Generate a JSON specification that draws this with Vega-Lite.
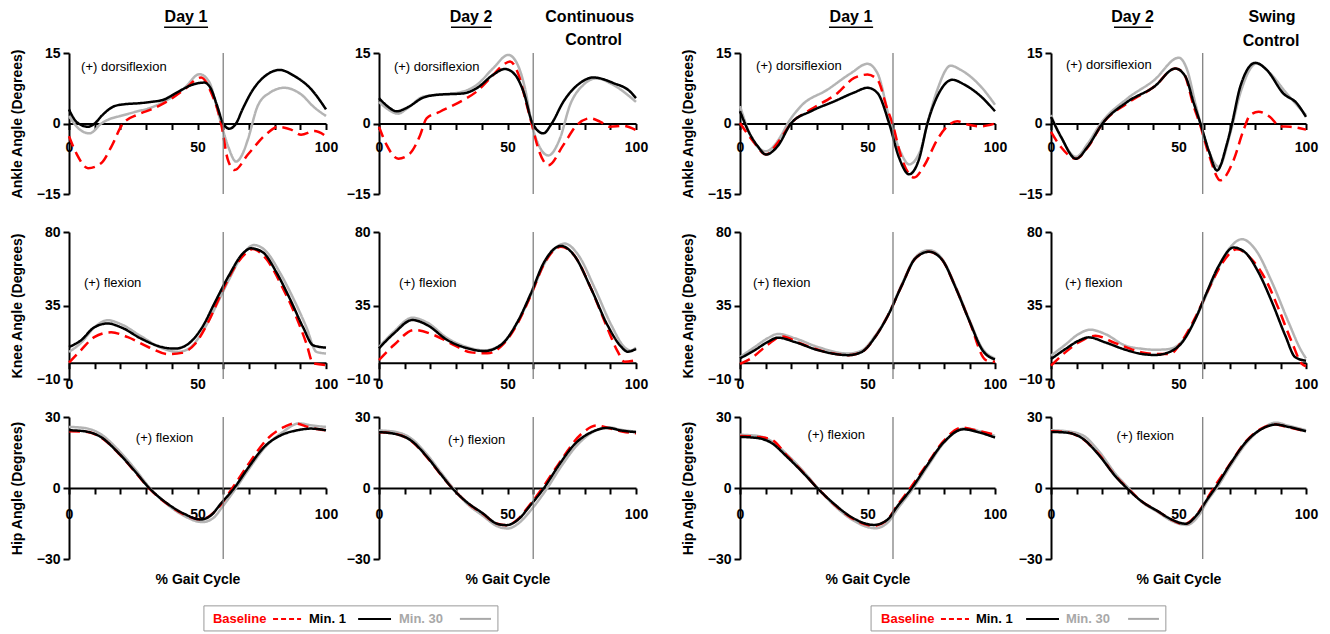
{
"$schema":"https://vega.github.io/schema/vega-lite/v6.json",
"padding":{"left":10,"top":8,"right":5,"bottom":2},
"config":{"font":"Liberation Sans","view":{"stroke":null},
 "axis":{"grid":false,"domainColor":"#000","domainWidth":2,"tickColor":"#000","tickWidth":2,"labelColor":"#000","labelFontSize":14,"labelFontWeight":"bold","labelFont":"Liberation Sans","titleColor":"#000","titleFontSize":14,"titleFontWeight":"bold","titleFont":"Liberation Sans"},
 "text":{"font":"Liberation Sans","color":"#000"}},
"datasets":{"d":[
{"p":"A1","s":"Min. 30","x":0,"y":1.6},{"p":"A1","s":"Min. 30","x":4,"y":-1.2},{"p":"A1","s":"Min. 30","x":8,"y":-2.1},{"p":"A1","s":"Min. 30","x":12.6,"y":0},{"p":"A1","s":"Min. 30","x":16,"y":1.0},{"p":"A1","s":"Min. 30","x":20,"y":1.6},{"p":"A1","s":"Min. 30","x":26,"y":2.5},{"p":"A1","s":"Min. 30","x":32,"y":3.4},{"p":"A1","s":"Min. 30","x":38.5,"y":5.1},{"p":"A1","s":"Min. 30","x":45,"y":7.6},{"p":"A1","s":"Min. 30","x":50.8,"y":10.5},{"p":"A1","s":"Min. 30","x":54.7,"y":8.7},{"p":"A1","s":"Min. 30","x":57,"y":4.5},{"p":"A1","s":"Min. 30","x":59.2,"y":0},{"p":"A1","s":"Min. 30","x":62,"y":-5},{"p":"A1","s":"Min. 30","x":65,"y":-8.1},{"p":"A1","s":"Min. 30","x":67.5,"y":-6.5},{"p":"A1","s":"Min. 30","x":69.6,"y":-3.4},{"p":"A1","s":"Min. 30","x":73.4,"y":3.7},{"p":"A1","s":"Min. 30","x":78,"y":6.5},{"p":"A1","s":"Min. 30","x":83.8,"y":7.6},{"p":"A1","s":"Min. 30","x":90.3,"y":6.2},{"p":"A1","s":"Min. 30","x":95.5,"y":3.4},{"p":"A1","s":"Min. 30","x":100,"y":1.6},
{"p":"A1","s":"Baseline","x":0,"y":-2.7},{"p":"A1","s":"Baseline","x":3,"y":-6.5},{"p":"A1","s":"Baseline","x":7.4,"y":-9.5},{"p":"A1","s":"Baseline","x":12.6,"y":-8.4},{"p":"A1","s":"Baseline","x":16.5,"y":-4.9},{"p":"A1","s":"Baseline","x":21,"y":0},{"p":"A1","s":"Baseline","x":26.8,"y":1.9},{"p":"A1","s":"Baseline","x":32,"y":3.0},{"p":"A1","s":"Baseline","x":38.5,"y":4.8},{"p":"A1","s":"Baseline","x":45,"y":7.3},{"p":"A1","s":"Baseline","x":51.4,"y":9.8},{"p":"A1","s":"Baseline","x":55.3,"y":6.6},{"p":"A1","s":"Baseline","x":59.2,"y":0},{"p":"A1","s":"Baseline","x":61.8,"y":-7.7},{"p":"A1","s":"Baseline","x":64.4,"y":-9.9},{"p":"A1","s":"Baseline","x":69.6,"y":-6.6},{"p":"A1","s":"Baseline","x":77.3,"y":-2.0},{"p":"A1","s":"Baseline","x":81.2,"y":-0.7},{"p":"A1","s":"Baseline","x":86.4,"y":-1.3},{"p":"A1","s":"Baseline","x":90.3,"y":-2.4},{"p":"A1","s":"Baseline","x":95.5,"y":-1.6},{"p":"A1","s":"Baseline","x":100,"y":-2.7},
{"p":"A1","s":"Min. 1","x":0,"y":3.0},{"p":"A1","s":"Min. 1","x":3,"y":0.3},{"p":"A1","s":"Min. 1","x":7.4,"y":-0.7},{"p":"A1","s":"Min. 1","x":10,"y":0},{"p":"A1","s":"Min. 1","x":13,"y":1.8},{"p":"A1","s":"Min. 1","x":17.7,"y":3.7},{"p":"A1","s":"Min. 1","x":21.6,"y":4.1},{"p":"A1","s":"Min. 1","x":27,"y":4.3},{"p":"A1","s":"Min. 1","x":32,"y":4.6},{"p":"A1","s":"Min. 1","x":37,"y":5.1},{"p":"A1","s":"Min. 1","x":42,"y":6.6},{"p":"A1","s":"Min. 1","x":48.8,"y":8.4},{"p":"A1","s":"Min. 1","x":52.7,"y":8.7},{"p":"A1","s":"Min. 1","x":55.3,"y":7.3},{"p":"A1","s":"Min. 1","x":57.5,"y":4},{"p":"A1","s":"Min. 1","x":60,"y":0},{"p":"A1","s":"Min. 1","x":62.4,"y":-1.1},{"p":"A1","s":"Min. 1","x":65,"y":0},{"p":"A1","s":"Min. 1","x":67.5,"y":3},{"p":"A1","s":"Min. 1","x":70.9,"y":6.6},{"p":"A1","s":"Min. 1","x":77.3,"y":10.5},{"p":"A1","s":"Min. 1","x":81.9,"y":11.4},{"p":"A1","s":"Min. 1","x":87.7,"y":10.1},{"p":"A1","s":"Min. 1","x":94.2,"y":7.3},{"p":"A1","s":"Min. 1","x":100,"y":3.0},
{"p":"A2","s":"Min. 30","x":0,"y":4.6},{"p":"A2","s":"Min. 30","x":3,"y":3.2},{"p":"A2","s":"Min. 30","x":7.5,"y":2.1},{"p":"A2","s":"Min. 30","x":11,"y":3.2},{"p":"A2","s":"Min. 30","x":17.2,"y":5.7},{"p":"A2","s":"Min. 30","x":25,"y":6.2},{"p":"A2","s":"Min. 30","x":32.8,"y":6.8},{"p":"A2","s":"Min. 30","x":38,"y":8.2},{"p":"A2","s":"Min. 30","x":44.5,"y":11.8},{"p":"A2","s":"Min. 30","x":50.3,"y":14.6},{"p":"A2","s":"Min. 30","x":53.6,"y":12.9},{"p":"A2","s":"Min. 30","x":56.8,"y":7.5},{"p":"A2","s":"Min. 30","x":59.4,"y":0},{"p":"A2","s":"Min. 30","x":62.5,"y":-5},{"p":"A2","s":"Min. 30","x":65.9,"y":-6.8},{"p":"A2","s":"Min. 30","x":70.4,"y":-3.2},{"p":"A2","s":"Min. 30","x":74.3,"y":3.9},{"p":"A2","s":"Min. 30","x":79.5,"y":8.2},{"p":"A2","s":"Min. 30","x":84.7,"y":9.6},{"p":"A2","s":"Min. 30","x":91.2,"y":8.2},{"p":"A2","s":"Min. 30","x":100,"y":4.6},
{"p":"A2","s":"Baseline","x":0,"y":-0.7},{"p":"A2","s":"Baseline","x":3,"y":-4.6},{"p":"A2","s":"Baseline","x":7.5,"y":-7.5},{"p":"A2","s":"Baseline","x":12,"y":-6.4},{"p":"A2","s":"Baseline","x":16,"y":-2.5},{"p":"A2","s":"Baseline","x":18.5,"y":1.1},{"p":"A2","s":"Baseline","x":23.7,"y":2.5},{"p":"A2","s":"Baseline","x":32.8,"y":5.0},{"p":"A2","s":"Baseline","x":38,"y":6.8},{"p":"A2","s":"Baseline","x":43.2,"y":9.6},{"p":"A2","s":"Baseline","x":48.4,"y":12.5},{"p":"A2","s":"Baseline","x":51,"y":13.2},{"p":"A2","s":"Baseline","x":54.3,"y":10.4},{"p":"A2","s":"Baseline","x":57.5,"y":3.9},{"p":"A2","s":"Baseline","x":59.4,"y":0},{"p":"A2","s":"Baseline","x":62,"y":-5.4},{"p":"A2","s":"Baseline","x":65.9,"y":-8.9},{"p":"A2","s":"Baseline","x":71.7,"y":-4.6},{"p":"A2","s":"Baseline","x":76.9,"y":-0.4},{"p":"A2","s":"Baseline","x":82.1,"y":1.1},{"p":"A2","s":"Baseline","x":86,"y":0.4},{"p":"A2","s":"Baseline","x":89.9,"y":-0.7},{"p":"A2","s":"Baseline","x":95,"y":-0.5},{"p":"A2","s":"Baseline","x":100,"y":-1.4},
{"p":"A2","s":"Min. 1","x":0,"y":5.4},{"p":"A2","s":"Min. 1","x":3,"y":3.8},{"p":"A2","s":"Min. 1","x":6.9,"y":2.6},{"p":"A2","s":"Min. 1","x":11,"y":3.4},{"p":"A2","s":"Min. 1","x":17.2,"y":5.5},{"p":"A2","s":"Min. 1","x":22.4,"y":6.1},{"p":"A2","s":"Min. 1","x":32.8,"y":6.4},{"p":"A2","s":"Min. 1","x":38,"y":7.5},{"p":"A2","s":"Min. 1","x":44.5,"y":10.4},{"p":"A2","s":"Min. 1","x":49,"y":11.6},{"p":"A2","s":"Min. 1","x":52.9,"y":10.4},{"p":"A2","s":"Min. 1","x":56.2,"y":6.8},{"p":"A2","s":"Min. 1","x":59.8,"y":0},{"p":"A2","s":"Min. 1","x":63.9,"y":-2.1},{"p":"A2","s":"Min. 1","x":67.2,"y":0},{"p":"A2","s":"Min. 1","x":71.7,"y":4.6},{"p":"A2","s":"Min. 1","x":78.2,"y":8.6},{"p":"A2","s":"Min. 1","x":83.4,"y":9.8},{"p":"A2","s":"Min. 1","x":91.2,"y":8.6},{"p":"A2","s":"Min. 1","x":97.7,"y":6.8},{"p":"A2","s":"Min. 1","x":100,"y":5.4},
{"p":"A3","s":"Min. 30","x":0,"y":3.7},{"p":"A3","s":"Min. 30","x":5.6,"y":-4.1},{"p":"A3","s":"Min. 30","x":10.2,"y":-5.9},{"p":"A3","s":"Min. 30","x":16,"y":-2.7},{"p":"A3","s":"Min. 30","x":18.7,"y":0},{"p":"A3","s":"Min. 30","x":23.9,"y":3.7},{"p":"A3","s":"Min. 30","x":34.3,"y":7.2},{"p":"A3","s":"Min. 30","x":43.5,"y":10.7},{"p":"A3","s":"Min. 30","x":50,"y":12.7},{"p":"A3","s":"Min. 30","x":53.9,"y":10.7},{"p":"A3","s":"Min. 30","x":59.1,"y":0},{"p":"A3","s":"Min. 30","x":63.1,"y":-6.2},{"p":"A3","s":"Min. 30","x":66.3,"y":-8.7},{"p":"A3","s":"Min. 30","x":70.9,"y":-5.5},{"p":"A3","s":"Min. 30","x":73.5,"y":0},{"p":"A3","s":"Min. 30","x":77.4,"y":7.2},{"p":"A3","s":"Min. 30","x":82.6,"y":12.3},{"p":"A3","s":"Min. 30","x":86.6,"y":11.4},{"p":"A3","s":"Min. 30","x":94.4,"y":7.9},{"p":"A3","s":"Min. 30","x":100,"y":4.0},
{"p":"A3","s":"Baseline","x":0,"y":0.1},{"p":"A3","s":"Baseline","x":5.6,"y":-4.1},{"p":"A3","s":"Baseline","x":10.2,"y":-6.6},{"p":"A3","s":"Baseline","x":14.8,"y":-4.1},{"p":"A3","s":"Baseline","x":20,"y":0},{"p":"A3","s":"Baseline","x":27.8,"y":3.0},{"p":"A3","s":"Baseline","x":38.3,"y":6.5},{"p":"A3","s":"Baseline","x":44.8,"y":9.7},{"p":"A3","s":"Baseline","x":50,"y":10.4},{"p":"A3","s":"Baseline","x":53.9,"y":9.3},{"p":"A3","s":"Baseline","x":57.8,"y":3.0},{"p":"A3","s":"Baseline","x":59.8,"y":0},{"p":"A3","s":"Baseline","x":63.1,"y":-6.9},{"p":"A3","s":"Baseline","x":68.3,"y":-11.5},{"p":"A3","s":"Baseline","x":72.2,"y":-9.0},{"p":"A3","s":"Baseline","x":77.4,"y":-3.4},{"p":"A3","s":"Baseline","x":81.3,"y":-0.6},{"p":"A3","s":"Baseline","x":85.2,"y":0.5},{"p":"A3","s":"Baseline","x":89.2,"y":-0.2},{"p":"A3","s":"Baseline","x":94.4,"y":-0.6},{"p":"A3","s":"Baseline","x":100,"y":0},
{"p":"A3","s":"Min. 1","x":0,"y":2.6},{"p":"A3","s":"Min. 1","x":3,"y":-1.3},{"p":"A3","s":"Min. 1","x":6.9,"y":-4.8},{"p":"A3","s":"Min. 1","x":10.2,"y":-6.6},{"p":"A3","s":"Min. 1","x":14.8,"y":-4.8},{"p":"A3","s":"Min. 1","x":20,"y":0},{"p":"A3","s":"Min. 1","x":27.8,"y":2.6},{"p":"A3","s":"Min. 1","x":36.9,"y":4.7},{"p":"A3","s":"Min. 1","x":44.8,"y":6.6},{"p":"A3","s":"Min. 1","x":50,"y":7.6},{"p":"A3","s":"Min. 1","x":53.9,"y":6.5},{"p":"A3","s":"Min. 1","x":58.5,"y":0},{"p":"A3","s":"Min. 1","x":62.4,"y":-7.3},{"p":"A3","s":"Min. 1","x":66.3,"y":-10.8},{"p":"A3","s":"Min. 1","x":70.2,"y":-7.6},{"p":"A3","s":"Min. 1","x":73.5,"y":0},{"p":"A3","s":"Min. 1","x":77.4,"y":5.8},{"p":"A3","s":"Min. 1","x":83.3,"y":9.3},{"p":"A3","s":"Min. 1","x":87.9,"y":8.3},{"p":"A3","s":"Min. 1","x":94.4,"y":5.8},{"p":"A3","s":"Min. 1","x":100,"y":2.6},
{"p":"A4","s":"Min. 30","x":0,"y":1.8},{"p":"A4","s":"Min. 30","x":4,"y":-3},{"p":"A4","s":"Min. 30","x":9.8,"y":-7.1},{"p":"A4","s":"Min. 30","x":14.5,"y":-4.2},{"p":"A4","s":"Min. 30","x":19.5,"y":0},{"p":"A4","s":"Min. 30","x":29.9,"y":5.3},{"p":"A4","s":"Min. 30","x":40.4,"y":9.2},{"p":"A4","s":"Min. 30","x":50.1,"y":14.0},{"p":"A4","s":"Min. 30","x":53.4,"y":11.4},{"p":"A4","s":"Min. 30","x":56.6,"y":4.3},{"p":"A4","s":"Min. 30","x":58.6,"y":0},{"p":"A4","s":"Min. 30","x":62,"y":-6},{"p":"A4","s":"Min. 30","x":65.8,"y":-9.2},{"p":"A4","s":"Min. 30","x":70.3,"y":-2.1},{"p":"A4","s":"Min. 30","x":74.2,"y":6.4},{"p":"A4","s":"Min. 30","x":80.7,"y":12.8},{"p":"A4","s":"Min. 30","x":85.9,"y":10.7},{"p":"A4","s":"Min. 30","x":92.4,"y":6.4},{"p":"A4","s":"Min. 30","x":100,"y":1.8},
{"p":"A4","s":"Baseline","x":0,"y":-1.8},{"p":"A4","s":"Baseline","x":3.9,"y":-5.0},{"p":"A4","s":"Baseline","x":9.8,"y":-7.5},{"p":"A4","s":"Baseline","x":14.5,"y":-5},{"p":"A4","s":"Baseline","x":20.2,"y":0},{"p":"A4","s":"Baseline","x":29.9,"y":4.3},{"p":"A4","s":"Baseline","x":40.4,"y":7.8},{"p":"A4","s":"Baseline","x":48.8,"y":11.7},{"p":"A4","s":"Baseline","x":52,"y":10.7},{"p":"A4","s":"Baseline","x":56,"y":3.6},{"p":"A4","s":"Baseline","x":58.3,"y":0},{"p":"A4","s":"Baseline","x":61.8,"y":-6.4},{"p":"A4","s":"Baseline","x":66.4,"y":-12.1},{"p":"A4","s":"Baseline","x":71.6,"y":-7.8},{"p":"A4","s":"Baseline","x":75.5,"y":-1.4},{"p":"A4","s":"Baseline","x":78.1,"y":1.8},{"p":"A4","s":"Baseline","x":81.4,"y":2.5},{"p":"A4","s":"Baseline","x":85.9,"y":1.4},{"p":"A4","s":"Baseline","x":89.8,"y":-0.6},{"p":"A4","s":"Baseline","x":93.8,"y":-0.7},{"p":"A4","s":"Baseline","x":100,"y":-1.3},
{"p":"A4","s":"Min. 1","x":0,"y":1.4},{"p":"A4","s":"Min. 1","x":3.9,"y":-2.8},{"p":"A4","s":"Min. 1","x":9.8,"y":-7.5},{"p":"A4","s":"Min. 1","x":14.3,"y":-5.0},{"p":"A4","s":"Min. 1","x":20.2,"y":0},{"p":"A4","s":"Min. 1","x":29.9,"y":4.6},{"p":"A4","s":"Min. 1","x":40.4,"y":7.8},{"p":"A4","s":"Min. 1","x":48.8,"y":11.7},{"p":"A4","s":"Min. 1","x":52.7,"y":10.0},{"p":"A4","s":"Min. 1","x":56,"y":4.3},{"p":"A4","s":"Min. 1","x":58.6,"y":0},{"p":"A4","s":"Min. 1","x":62,"y":-6},{"p":"A4","s":"Min. 1","x":65.1,"y":-10.0},{"p":"A4","s":"Min. 1","x":69,"y":-4.3},{"p":"A4","s":"Min. 1","x":71,"y":0},{"p":"A4","s":"Min. 1","x":74.2,"y":7.8},{"p":"A4","s":"Min. 1","x":80.1,"y":12.9},{"p":"A4","s":"Min. 1","x":84.6,"y":11.4},{"p":"A4","s":"Min. 1","x":91.1,"y":6.4},{"p":"A4","s":"Min. 1","x":96.4,"y":4.3},{"p":"A4","s":"Min. 1","x":100,"y":1.4},
{"p":"K1","s":"Min. 30","x":0,"y":6.6},{"p":"K1","s":"Min. 30","x":4.6,"y":12},{"p":"K1","s":"Min. 30","x":9.8,"y":21.5},{"p":"K1","s":"Min. 30","x":15.1,"y":26},{"p":"K1","s":"Min. 30","x":20.3,"y":23.5},{"p":"K1","s":"Min. 30","x":28.2,"y":16},{"p":"K1","s":"Min. 30","x":36,"y":9},{"p":"K1","s":"Min. 30","x":42.6,"y":6.6},{"p":"K1","s":"Min. 30","x":47,"y":9},{"p":"K1","s":"Min. 30","x":52,"y":19},{"p":"K1","s":"Min. 30","x":57,"y":34},{"p":"K1","s":"Min. 30","x":62.3,"y":51},{"p":"K1","s":"Min. 30","x":67.5,"y":66},{"p":"K1","s":"Min. 30","x":72,"y":72},{"p":"K1","s":"Min. 30","x":76.5,"y":68.5},{"p":"K1","s":"Min. 30","x":81.9,"y":55.6},{"p":"K1","s":"Min. 30","x":87.2,"y":39.6},{"p":"K1","s":"Min. 30","x":92.4,"y":21.6},{"p":"K1","s":"Min. 30","x":96.3,"y":6.6},{"p":"K1","s":"Min. 30","x":100,"y":5.6},
{"p":"K1","s":"Baseline","x":0,"y":0},{"p":"K1","s":"Baseline","x":4.6,"y":7.6},{"p":"K1","s":"Baseline","x":9.8,"y":15.6},{"p":"K1","s":"Baseline","x":16.4,"y":18.6},{"p":"K1","s":"Baseline","x":22.9,"y":15.6},{"p":"K1","s":"Baseline","x":30.8,"y":9.6},{"p":"K1","s":"Baseline","x":38.7,"y":5.2},{"p":"K1","s":"Baseline","x":43.9,"y":6},{"p":"K1","s":"Baseline","x":49.1,"y":11.6},{"p":"K1","s":"Baseline","x":54.4,"y":25.6},{"p":"K1","s":"Baseline","x":59.6,"y":43.6},{"p":"K1","s":"Baseline","x":64.9,"y":59.6},{"p":"K1","s":"Baseline","x":70.1,"y":68.6},{"p":"K1","s":"Baseline","x":71.4,"y":69.6},{"p":"K1","s":"Baseline","x":76.7,"y":63.6},{"p":"K1","s":"Baseline","x":83.2,"y":45.6},{"p":"K1","s":"Baseline","x":88.5,"y":27.6},{"p":"K1","s":"Baseline","x":92.4,"y":11.6},{"p":"K1","s":"Baseline","x":95,"y":-0.4},{"p":"K1","s":"Baseline","x":100,"y":-1.4},
{"p":"K1","s":"Min. 1","x":0,"y":9.6},{"p":"K1","s":"Min. 1","x":4.6,"y":13.6},{"p":"K1","s":"Min. 1","x":9.8,"y":21.6},{"p":"K1","s":"Min. 1","x":15.1,"y":24},{"p":"K1","s":"Min. 1","x":20.3,"y":21.6},{"p":"K1","s":"Min. 1","x":28.2,"y":14.6},{"p":"K1","s":"Min. 1","x":36,"y":9.6},{"p":"K1","s":"Min. 1","x":41.3,"y":8.6},{"p":"K1","s":"Min. 1","x":46.5,"y":11.6},{"p":"K1","s":"Min. 1","x":51.8,"y":21.6},{"p":"K1","s":"Min. 1","x":57,"y":37.6},{"p":"K1","s":"Min. 1","x":62.3,"y":53.6},{"p":"K1","s":"Min. 1","x":67.5,"y":66.6},{"p":"K1","s":"Min. 1","x":70.8,"y":70},{"p":"K1","s":"Min. 1","x":75.4,"y":67.6},{"p":"K1","s":"Min. 1","x":80.6,"y":55.6},{"p":"K1","s":"Min. 1","x":85.8,"y":39.6},{"p":"K1","s":"Min. 1","x":91.1,"y":21.6},{"p":"K1","s":"Min. 1","x":95,"y":10.6},{"p":"K1","s":"Min. 1","x":100,"y":9.2},
{"p":"K2","s":"Min. 30","x":0,"y":9.5},{"p":"K2","s":"Min. 30","x":5.8,"y":19},{"p":"K2","s":"Min. 30","x":13,"y":27.5},{"p":"K2","s":"Min. 30","x":18.8,"y":24.5},{"p":"K2","s":"Min. 30","x":26.6,"y":15},{"p":"K2","s":"Min. 30","x":34.4,"y":9.5},{"p":"K2","s":"Min. 30","x":40.9,"y":7.5},{"p":"K2","s":"Min. 30","x":47.4,"y":11},{"p":"K2","s":"Min. 30","x":53.9,"y":24.5},{"p":"K2","s":"Min. 30","x":59.1,"y":41.5},{"p":"K2","s":"Min. 30","x":64.3,"y":60.5},{"p":"K2","s":"Min. 30","x":72.3,"y":72.9},{"p":"K2","s":"Min. 30","x":77.5,"y":66},{"p":"K2","s":"Min. 30","x":84,"y":45.4},{"p":"K2","s":"Min. 30","x":90.4,"y":23},{"p":"K2","s":"Min. 30","x":95.5,"y":9.5},{"p":"K2","s":"Min. 30","x":98,"y":7.5},{"p":"K2","s":"Min. 30","x":100,"y":9.2},
{"p":"K2","s":"Baseline","x":0,"y":1.6},{"p":"K2","s":"Baseline","x":5.8,"y":10.8},{"p":"K2","s":"Baseline","x":13.6,"y":20},{"p":"K2","s":"Baseline","x":21.4,"y":16.9},{"p":"K2","s":"Baseline","x":29.2,"y":10.8},{"p":"K2","s":"Baseline","x":35.7,"y":6.3},{"p":"K2","s":"Baseline","x":42.2,"y":5.7},{"p":"K2","s":"Baseline","x":47.4,"y":9.8},{"p":"K2","s":"Baseline","x":53.9,"y":24},{"p":"K2","s":"Baseline","x":59.1,"y":41.3},{"p":"K2","s":"Baseline","x":64.3,"y":60.7},{"p":"K2","s":"Baseline","x":70.8,"y":70.9},{"p":"K2","s":"Baseline","x":75.9,"y":65.8},{"p":"K2","s":"Baseline","x":82.5,"y":45.4},{"p":"K2","s":"Baseline","x":88.9,"y":21},{"p":"K2","s":"Baseline","x":92.9,"y":6.7},{"p":"K2","s":"Baseline","x":95.5,"y":0.6},{"p":"K2","s":"Baseline","x":100,"y":1.6},
{"p":"K2","s":"Min. 1","x":0,"y":8.8},{"p":"K2","s":"Min. 1","x":5.8,"y":17.9},{"p":"K2","s":"Min. 1","x":13,"y":26.1},{"p":"K2","s":"Min. 1","x":18.8,"y":23},{"p":"K2","s":"Min. 1","x":26.6,"y":13.8},{"p":"K2","s":"Min. 1","x":34.4,"y":8.8},{"p":"K2","s":"Min. 1","x":40.9,"y":7.1},{"p":"K2","s":"Min. 1","x":47.4,"y":10.8},{"p":"K2","s":"Min. 1","x":53.9,"y":25},{"p":"K2","s":"Min. 1","x":59.1,"y":42.4},{"p":"K2","s":"Min. 1","x":64.3,"y":61.7},{"p":"K2","s":"Min. 1","x":70.8,"y":71.5},{"p":"K2","s":"Min. 1","x":75.9,"y":65.8},{"p":"K2","s":"Min. 1","x":82.5,"y":45.4},{"p":"K2","s":"Min. 1","x":88.9,"y":23},{"p":"K2","s":"Min. 1","x":94.2,"y":9.8},{"p":"K2","s":"Min. 1","x":96.8,"y":6.7},{"p":"K2","s":"Min. 1","x":100,"y":8.4},
{"p":"K3","s":"Min. 30","x":0,"y":3.4},{"p":"K3","s":"Min. 30","x":5.7,"y":9.5},{"p":"K3","s":"Min. 30","x":10.9,"y":15},{"p":"K3","s":"Min. 30","x":14.9,"y":17.6},{"p":"K3","s":"Min. 30","x":21.4,"y":15},{"p":"K3","s":"Min. 30","x":30.7,"y":9.5},{"p":"K3","s":"Min. 30","x":42.5,"y":5.6},{"p":"K3","s":"Min. 30","x":47.8,"y":7.5},{"p":"K3","s":"Min. 30","x":53,"y":16.5},{"p":"K3","s":"Min. 30","x":58.3,"y":30},{"p":"K3","s":"Min. 30","x":63.6,"y":48.5},{"p":"K3","s":"Min. 30","x":68.8,"y":64.5},{"p":"K3","s":"Min. 30","x":74.1,"y":68.9},{"p":"K3","s":"Min. 30","x":79.3,"y":63.5},{"p":"K3","s":"Min. 30","x":84.6,"y":46.5},{"p":"K3","s":"Min. 30","x":89.9,"y":26.5},{"p":"K3","s":"Min. 30","x":95.1,"y":8.5},{"p":"K3","s":"Min. 30","x":100,"y":2.6},
{"p":"K3","s":"Baseline","x":0,"y":-0.8},{"p":"K3","s":"Baseline","x":4.3,"y":2.6},{"p":"K3","s":"Baseline","x":10.9,"y":11},{"p":"K3","s":"Baseline","x":16.2,"y":16},{"p":"K3","s":"Baseline","x":24,"y":11.6},{"p":"K3","s":"Baseline","x":32,"y":7.2},{"p":"K3","s":"Baseline","x":42.5,"y":4.6},{"p":"K3","s":"Baseline","x":47.8,"y":6.6},{"p":"K3","s":"Baseline","x":53,"y":15.7},{"p":"K3","s":"Baseline","x":58.3,"y":29.7},{"p":"K3","s":"Baseline","x":63.6,"y":47.8},{"p":"K3","s":"Baseline","x":68.8,"y":63.9},{"p":"K3","s":"Baseline","x":74.1,"y":67.9},{"p":"K3","s":"Baseline","x":79.3,"y":62.9},{"p":"K3","s":"Baseline","x":84.6,"y":45.8},{"p":"K3","s":"Baseline","x":89.9,"y":25.7},{"p":"K3","s":"Baseline","x":96.4,"y":1.6},{"p":"K3","s":"Baseline","x":100,"y":0.6},
{"p":"K3","s":"Min. 1","x":0,"y":2.6},{"p":"K3","s":"Min. 1","x":5.7,"y":7.6},{"p":"K3","s":"Min. 1","x":10.9,"y":12.7},{"p":"K3","s":"Min. 1","x":14.9,"y":15.3},{"p":"K3","s":"Min. 1","x":21.4,"y":12.7},{"p":"K3","s":"Min. 1","x":30.7,"y":7.6},{"p":"K3","s":"Min. 1","x":42.5,"y":4.6},{"p":"K3","s":"Min. 1","x":47.8,"y":6.6},{"p":"K3","s":"Min. 1","x":53,"y":15.7},{"p":"K3","s":"Min. 1","x":58.3,"y":29.7},{"p":"K3","s":"Min. 1","x":63.6,"y":47.8},{"p":"K3","s":"Min. 1","x":68.8,"y":63.9},{"p":"K3","s":"Min. 1","x":74.1,"y":67.9},{"p":"K3","s":"Min. 1","x":79.3,"y":62.9},{"p":"K3","s":"Min. 1","x":84.6,"y":45.8},{"p":"K3","s":"Min. 1","x":89.9,"y":25.7},{"p":"K3","s":"Min. 1","x":95.1,"y":7.6},{"p":"K3","s":"Min. 1","x":100,"y":2.0},
{"p":"K4","s":"Min. 30","x":0,"y":4.3},{"p":"K4","s":"Min. 30","x":5.6,"y":11},{"p":"K4","s":"Min. 30","x":10.8,"y":17.5},{"p":"K4","s":"Min. 30","x":15.4,"y":20.2},{"p":"K4","s":"Min. 30","x":21.3,"y":17.5},{"p":"K4","s":"Min. 30","x":29.2,"y":10.4},{"p":"K4","s":"Min. 30","x":35.7,"y":8.5},{"p":"K4","s":"Min. 30","x":40.9,"y":7.9},{"p":"K4","s":"Min. 30","x":46.1,"y":8.3},{"p":"K4","s":"Min. 30","x":52.7,"y":15.5},{"p":"K4","s":"Min. 30","x":57.9,"y":30.8},{"p":"K4","s":"Min. 30","x":63.1,"y":49.1},{"p":"K4","s":"Min. 30","x":69.7,"y":69.4},{"p":"K4","s":"Min. 30","x":74.9,"y":75.6},{"p":"K4","s":"Min. 30","x":80.1,"y":69.4},{"p":"K4","s":"Min. 30","x":86.7,"y":49.1},{"p":"K4","s":"Min. 30","x":93.2,"y":24.6},{"p":"K4","s":"Min. 30","x":97.8,"y":8.3},{"p":"K4","s":"Min. 30","x":100,"y":2.6},
{"p":"K4","s":"Baseline","x":0,"y":-1.8},{"p":"K4","s":"Baseline","x":5.6,"y":6.3},{"p":"K4","s":"Baseline","x":11,"y":12.5},{"p":"K4","s":"Baseline","x":17.4,"y":16.5},{"p":"K4","s":"Baseline","x":25.2,"y":12},{"p":"K4","s":"Baseline","x":35.7,"y":6.3},{"p":"K4","s":"Baseline","x":42.2,"y":5.3},{"p":"K4","s":"Baseline","x":46.5,"y":5.3},{"p":"K4","s":"Baseline","x":51.4,"y":13.4},{"p":"K4","s":"Baseline","x":56.6,"y":27.7},{"p":"K4","s":"Baseline","x":61.8,"y":45},{"p":"K4","s":"Baseline","x":67.3,"y":61.3},{"p":"K4","s":"Baseline","x":72.9,"y":69.5},{"p":"K4","s":"Baseline","x":78.7,"y":63.3},{"p":"K4","s":"Baseline","x":84.1,"y":51.1},{"p":"K4","s":"Baseline","x":89.3,"y":32.8},{"p":"K4","s":"Baseline","x":94.5,"y":12.4},{"p":"K4","s":"Baseline","x":98.4,"y":-0.8},{"p":"K4","s":"Baseline","x":100,"y":-2.2},
{"p":"K4","s":"Min. 1","x":0,"y":2.2},{"p":"K4","s":"Min. 1","x":5.6,"y":8.3},{"p":"K4","s":"Min. 1","x":10.8,"y":13.4},{"p":"K4","s":"Min. 1","x":14.8,"y":15.5},{"p":"K4","s":"Min. 1","x":21.3,"y":12.4},{"p":"K4","s":"Min. 1","x":29.2,"y":7.9},{"p":"K4","s":"Min. 1","x":35.7,"y":5.3},{"p":"K4","s":"Min. 1","x":40.9,"y":4.7},{"p":"K4","s":"Min. 1","x":46.1,"y":6.3},{"p":"K4","s":"Min. 1","x":51.4,"y":12.4},{"p":"K4","s":"Min. 1","x":56.6,"y":26.7},{"p":"K4","s":"Min. 1","x":60.5,"y":40.9},{"p":"K4","s":"Min. 1","x":65.8,"y":59.3},{"p":"K4","s":"Min. 1","x":71.6,"y":70.5},{"p":"K4","s":"Min. 1","x":76.2,"y":67.4},{"p":"K4","s":"Min. 1","x":81.4,"y":55.2},{"p":"K4","s":"Min. 1","x":86.7,"y":36.9},{"p":"K4","s":"Min. 1","x":91.9,"y":16.5},{"p":"K4","s":"Min. 1","x":95.8,"y":3.3},{"p":"K4","s":"Min. 1","x":100,"y":1.2},
{"p":"H1","s":"Min. 30","x":0,"y":25.8},{"p":"H1","s":"Min. 30","x":5.8,"y":25.4},{"p":"H1","s":"Min. 30","x":12.3,"y":22.8},{"p":"H1","s":"Min. 30","x":18.8,"y":16.5},{"p":"H1","s":"Min. 30","x":25.3,"y":8.5},{"p":"H1","s":"Min. 30","x":31.5,"y":0},{"p":"H1","s":"Min. 30","x":38.3,"y":-7},{"p":"H1","s":"Min. 30","x":44.8,"y":-11.8},{"p":"H1","s":"Min. 30","x":51.9,"y":-14.4},{"p":"H1","s":"Min. 30","x":56,"y":-12.8},{"p":"H1","s":"Min. 30","x":60,"y":-7.5},{"p":"H1","s":"Min. 30","x":65,"y":0},{"p":"H1","s":"Min. 30","x":70,"y":8},{"p":"H1","s":"Min. 30","x":76.5,"y":17.5},{"p":"H1","s":"Min. 30","x":83,"y":23.5},{"p":"H1","s":"Min. 30","x":89.6,"y":27.3},{"p":"H1","s":"Min. 30","x":94.2,"y":26.5},{"p":"H1","s":"Min. 30","x":100,"y":25.8},
{"p":"H1","s":"Baseline","x":0,"y":24},{"p":"H1","s":"Baseline","x":5.8,"y":23.8},{"p":"H1","s":"Baseline","x":12.3,"y":21.5},{"p":"H1","s":"Baseline","x":18.8,"y":15.2},{"p":"H1","s":"Baseline","x":25.3,"y":7.3},{"p":"H1","s":"Baseline","x":31,"y":0},{"p":"H1","s":"Baseline","x":38.3,"y":-6.8},{"p":"H1","s":"Baseline","x":44.8,"y":-11.2},{"p":"H1","s":"Baseline","x":51.3,"y":-13.3},{"p":"H1","s":"Baseline","x":56.5,"y":-10.2},{"p":"H1","s":"Baseline","x":63.6,"y":0},{"p":"H1","s":"Baseline","x":69.5,"y":9.6},{"p":"H1","s":"Baseline","x":77.3,"y":20.9},{"p":"H1","s":"Baseline","x":83.8,"y":25.8},{"p":"H1","s":"Baseline","x":87.7,"y":27.3},{"p":"H1","s":"Baseline","x":93,"y":25.8},{"p":"H1","s":"Baseline","x":97,"y":24.8},{"p":"H1","s":"Baseline","x":100,"y":24.4},
{"p":"H1","s":"Min. 1","x":0,"y":24.4},{"p":"H1","s":"Min. 1","x":5.8,"y":24},{"p":"H1","s":"Min. 1","x":12.3,"y":21.6},{"p":"H1","s":"Min. 1","x":18.8,"y":15.3},{"p":"H1","s":"Min. 1","x":25.3,"y":7.5},{"p":"H1","s":"Min. 1","x":31.2,"y":0},{"p":"H1","s":"Min. 1","x":38.3,"y":-6.6},{"p":"H1","s":"Min. 1","x":44.8,"y":-10.9},{"p":"H1","s":"Min. 1","x":51.3,"y":-13.3},{"p":"H1","s":"Min. 1","x":55.2,"y":-11.6},{"p":"H1","s":"Min. 1","x":59.1,"y":-6.6},{"p":"H1","s":"Min. 1","x":64.3,"y":0},{"p":"H1","s":"Min. 1","x":69.5,"y":8.2},{"p":"H1","s":"Min. 1","x":76,"y":17.4},{"p":"H1","s":"Min. 1","x":82.5,"y":22.3},{"p":"H1","s":"Min. 1","x":88.9,"y":24.4},{"p":"H1","s":"Min. 1","x":94.2,"y":25.1},{"p":"H1","s":"Min. 1","x":100,"y":24.4},
{"p":"H2","s":"Min. 30","x":0,"y":24.3},{"p":"H2","s":"Min. 30","x":6,"y":23.8},{"p":"H2","s":"Min. 30","x":12.4,"y":21},{"p":"H2","s":"Min. 30","x":18.8,"y":14},{"p":"H2","s":"Min. 30","x":23.9,"y":6.8},{"p":"H2","s":"Min. 30","x":28.8,"y":0},{"p":"H2","s":"Min. 30","x":34.1,"y":-6.5},{"p":"H2","s":"Min. 30","x":40.5,"y":-11.8},{"p":"H2","s":"Min. 30","x":45.7,"y":-16},{"p":"H2","s":"Min. 30","x":50.1,"y":-17.1},{"p":"H2","s":"Min. 30","x":55,"y":-14.3},{"p":"H2","s":"Min. 30","x":59,"y":-9.5},{"p":"H2","s":"Min. 30","x":65.5,"y":0},{"p":"H2","s":"Min. 30","x":70.5,"y":8.5},{"p":"H2","s":"Min. 30","x":77,"y":18},{"p":"H2","s":"Min. 30","x":83,"y":23.5},{"p":"H2","s":"Min. 30","x":89.1,"y":25.7},{"p":"H2","s":"Min. 30","x":94.2,"y":24.6},{"p":"H2","s":"Min. 30","x":100,"y":23.8},
{"p":"H2","s":"Baseline","x":0,"y":23.6},{"p":"H2","s":"Baseline","x":6,"y":23},{"p":"H2","s":"Baseline","x":12.4,"y":20},{"p":"H2","s":"Baseline","x":18.8,"y":12.8},{"p":"H2","s":"Baseline","x":23.9,"y":5.8},{"p":"H2","s":"Baseline","x":28.4,"y":0},{"p":"H2","s":"Baseline","x":34.1,"y":-6},{"p":"H2","s":"Baseline","x":40.5,"y":-11},{"p":"H2","s":"Baseline","x":45.7,"y":-15},{"p":"H2","s":"Baseline","x":49.5,"y":-15.7},{"p":"H2","s":"Baseline","x":54.6,"y":-12.6},{"p":"H2","s":"Baseline","x":58.4,"y":-7.5},{"p":"H2","s":"Baseline","x":63.6,"y":0},{"p":"H2","s":"Baseline","x":69.9,"y":10.2},{"p":"H2","s":"Baseline","x":78.8,"y":22.9},{"p":"H2","s":"Baseline","x":84.7,"y":26.4},{"p":"H2","s":"Baseline","x":90.4,"y":25},{"p":"H2","s":"Baseline","x":95,"y":23.8},{"p":"H2","s":"Baseline","x":100,"y":23.1},
{"p":"H2","s":"Min. 1","x":0,"y":23.6},{"p":"H2","s":"Min. 1","x":6,"y":22.9},{"p":"H2","s":"Min. 1","x":12.4,"y":20.1},{"p":"H2","s":"Min. 1","x":18.8,"y":13},{"p":"H2","s":"Min. 1","x":23.9,"y":6},{"p":"H2","s":"Min. 1","x":28.4,"y":0},{"p":"H2","s":"Min. 1","x":34.1,"y":-5.9},{"p":"H2","s":"Min. 1","x":40.5,"y":-10.8},{"p":"H2","s":"Min. 1","x":45.7,"y":-15},{"p":"H2","s":"Min. 1","x":49.5,"y":-15.7},{"p":"H2","s":"Min. 1","x":54.6,"y":-12.9},{"p":"H2","s":"Min. 1","x":58.4,"y":-8},{"p":"H2","s":"Min. 1","x":64.2,"y":0},{"p":"H2","s":"Min. 1","x":69.9,"y":9.5},{"p":"H2","s":"Min. 1","x":76.3,"y":18.7},{"p":"H2","s":"Min. 1","x":82.7,"y":23.6},{"p":"H2","s":"Min. 1","x":89.1,"y":25.4},{"p":"H2","s":"Min. 1","x":94.2,"y":24.3},{"p":"H2","s":"Min. 1","x":100,"y":23.6},
{"p":"H3","s":"Min. 30","x":0,"y":22.5},{"p":"H3","s":"Min. 30","x":6.9,"y":22},{"p":"H3","s":"Min. 30","x":12.1,"y":20},{"p":"H3","s":"Min. 30","x":18.6,"y":14},{"p":"H3","s":"Min. 30","x":25.1,"y":6.8},{"p":"H3","s":"Min. 30","x":30.5,"y":0},{"p":"H3","s":"Min. 30","x":36.8,"y":-7.2},{"p":"H3","s":"Min. 30","x":43.4,"y":-13},{"p":"H3","s":"Min. 30","x":53.1,"y":-17},{"p":"H3","s":"Min. 30","x":58,"y":-14.5},{"p":"H3","s":"Min. 30","x":62,"y":-8.5},{"p":"H3","s":"Min. 30","x":68,"y":0},{"p":"H3","s":"Min. 30","x":73.8,"y":9.5},{"p":"H3","s":"Min. 30","x":80.3,"y":19.5},{"p":"H3","s":"Min. 30","x":88.2,"y":25.2},{"p":"H3","s":"Min. 30","x":94.1,"y":24},{"p":"H3","s":"Min. 30","x":100,"y":22},
{"p":"H3","s":"Baseline","x":0,"y":22},{"p":"H3","s":"Baseline","x":6.9,"y":21.6},{"p":"H3","s":"Baseline","x":12.1,"y":20.6},{"p":"H3","s":"Baseline","x":18.6,"y":13.5},{"p":"H3","s":"Baseline","x":25.1,"y":6.2},{"p":"H3","s":"Baseline","x":30.3,"y":0},{"p":"H3","s":"Baseline","x":36.8,"y":-6.8},{"p":"H3","s":"Baseline","x":43.4,"y":-12.4},{"p":"H3","s":"Baseline","x":52.5,"y":-16},{"p":"H3","s":"Baseline","x":57.7,"y":-13.5},{"p":"H3","s":"Baseline","x":61.6,"y":-7.5},{"p":"H3","s":"Baseline","x":66.8,"y":0},{"p":"H3","s":"Baseline","x":73.3,"y":10},{"p":"H3","s":"Baseline","x":79.8,"y":19.8},{"p":"H3","s":"Baseline","x":87,"y":25.5},{"p":"H3","s":"Baseline","x":93.5,"y":24.1},{"p":"H3","s":"Baseline","x":100,"y":22.5},
{"p":"H3","s":"Min. 1","x":0,"y":21.6},{"p":"H3","s":"Min. 1","x":6.9,"y":21.1},{"p":"H3","s":"Min. 1","x":12.1,"y":19.2},{"p":"H3","s":"Min. 1","x":18.6,"y":13},{"p":"H3","s":"Min. 1","x":25.1,"y":6},{"p":"H3","s":"Min. 1","x":30.3,"y":0},{"p":"H3","s":"Min. 1","x":36.8,"y":-6.6},{"p":"H3","s":"Min. 1","x":43.4,"y":-12.1},{"p":"H3","s":"Min. 1","x":52.5,"y":-15.6},{"p":"H3","s":"Min. 1","x":57.7,"y":-13.5},{"p":"H3","s":"Min. 1","x":61.6,"y":-7.9},{"p":"H3","s":"Min. 1","x":67.4,"y":0},{"p":"H3","s":"Min. 1","x":73.3,"y":9.5},{"p":"H3","s":"Min. 1","x":79.8,"y":19.2},{"p":"H3","s":"Min. 1","x":87.6,"y":24.8},{"p":"H3","s":"Min. 1","x":94.1,"y":23.4},{"p":"H3","s":"Min. 1","x":100,"y":21.3},
{"p":"H4","s":"Min. 30","x":0,"y":24.4},{"p":"H4","s":"Min. 30","x":6,"y":24},{"p":"H4","s":"Min. 30","x":12.4,"y":22.3},{"p":"H4","s":"Min. 30","x":18.8,"y":15.5},{"p":"H4","s":"Min. 30","x":25.3,"y":6},{"p":"H4","s":"Min. 30","x":30.4,"y":0},{"p":"H4","s":"Min. 30","x":35.5,"y":-5.8},{"p":"H4","s":"Min. 30","x":41.9,"y":-10.2},{"p":"H4","s":"Min. 30","x":47.1,"y":-13.8},{"p":"H4","s":"Min. 30","x":53.3,"y":-15.6},{"p":"H4","s":"Min. 30","x":57.8,"y":-11.8},{"p":"H4","s":"Min. 30","x":61.6,"y":-5},{"p":"H4","s":"Min. 30","x":65,"y":0},{"p":"H4","s":"Min. 30","x":70.5,"y":9.5},{"p":"H4","s":"Min. 30","x":77,"y":19.5},{"p":"H4","s":"Min. 30","x":83.3,"y":25.5},{"p":"H4","s":"Min. 30","x":88.1,"y":27.6},{"p":"H4","s":"Min. 30","x":93.2,"y":26.3},{"p":"H4","s":"Min. 30","x":100,"y":24.4},
{"p":"H4","s":"Baseline","x":0,"y":24},{"p":"H4","s":"Baseline","x":6,"y":23.6},{"p":"H4","s":"Baseline","x":11.2,"y":21.6},{"p":"H4","s":"Baseline","x":18.8,"y":14.2},{"p":"H4","s":"Baseline","x":25.3,"y":5},{"p":"H4","s":"Baseline","x":29.9,"y":0},{"p":"H4","s":"Baseline","x":35.5,"y":-5.6},{"p":"H4","s":"Baseline","x":41.9,"y":-9.8},{"p":"H4","s":"Baseline","x":47.1,"y":-13.3},{"p":"H4","s":"Baseline","x":52.2,"y":-15.3},{"p":"H4","s":"Baseline","x":57.3,"y":-11},{"p":"H4","s":"Baseline","x":61.2,"y":-4.5},{"p":"H4","s":"Baseline","x":63.8,"y":0},{"p":"H4","s":"Baseline","x":70.1,"y":10},{"p":"H4","s":"Baseline","x":76.5,"y":19.8},{"p":"H4","s":"Baseline","x":82.9,"y":25.3},{"p":"H4","s":"Baseline","x":88.1,"y":26.8},{"p":"H4","s":"Baseline","x":93.2,"y":25.6},{"p":"H4","s":"Baseline","x":100,"y":24},
{"p":"H4","s":"Min. 1","x":0,"y":23.7},{"p":"H4","s":"Min. 1","x":6,"y":23.4},{"p":"H4","s":"Min. 1","x":12.4,"y":20.9},{"p":"H4","s":"Min. 1","x":18.8,"y":13.9},{"p":"H4","s":"Min. 1","x":25.3,"y":4.9},{"p":"H4","s":"Min. 1","x":29.7,"y":0},{"p":"H4","s":"Min. 1","x":35.5,"y":-5.6},{"p":"H4","s":"Min. 1","x":41.9,"y":-9.8},{"p":"H4","s":"Min. 1","x":47.1,"y":-13.2},{"p":"H4","s":"Min. 1","x":52.8,"y":-15.1},{"p":"H4","s":"Min. 1","x":57.3,"y":-11.2},{"p":"H4","s":"Min. 1","x":61.2,"y":-4.9},{"p":"H4","s":"Min. 1","x":64.4,"y":0},{"p":"H4","s":"Min. 1","x":70.1,"y":9.8},{"p":"H4","s":"Min. 1","x":76.5,"y":19.5},{"p":"H4","s":"Min. 1","x":82.9,"y":25.1},{"p":"H4","s":"Min. 1","x":88.1,"y":26.8},{"p":"H4","s":"Min. 1","x":93.2,"y":25.8},{"p":"H4","s":"Min. 1","x":100,"y":24}
]},
"resolve":{"scale":{"x":"independent","y":"independent"}},
"columns":7,
"spacing":{"row":38,"column":0},
"bounds":"flush",
"concat":[
 {"width":257,"height":141,"resolve":{"axis":{"x":"independent"}},"layer":[
   {"data":{"name":"d"},"transform":[{"filter":"datum.p==='A1'"}],"mark":{"type":"line","interpolate":"monotone","strokeWidth":2.5},
    "encoding":{"x":{"field":"x","type":"quantitative","scale":{"domain":[0,100],"nice":false,"zero":false},"axis":{"orient":"bottom","values":[0,10,20,30,40,50,60,70,80,90,100],"labels":false,"offset":-70.5,"title":null,"tickSize":6}},
     "y":{"field":"y","type":"quantitative","scale":{"domain":[-15,15],"nice":false,"zero":false},"axis":{"values":[-15,0,15],"title":"Ankle Angle (Degrees)","tickSize":6,"labelPadding":3,"titlePadding":12}},
     "color":{"field":"s","type":"nominal","scale":{"domain":["Min. 30","Baseline","Min. 1"],"range":["#b4b4b4","#ff0000","#000000"]},"legend":null},
     "strokeDash":{"field":"s","type":"nominal","scale":{"domain":["Min. 30","Baseline","Min. 1"],"range":[[1,0],[11,6],[1,0]]},"legend":null}}},
   {"data":{"values":[{}]},"mark":{"type":"rule","color":"#777","strokeWidth":1.2},"encoding":{"x":{"datum":60,"axis":{"orient":"bottom","values":[0,50,100],"domain":false,"tickOpacity":0,"tickSize":6,"labelPadding":11,"offset":-70.5,"title":null,"labelFlush":false,"labelBound":false,"labelOverlap":false}}}},
   {"data":{"values":[{}]},"mark":{"type":"text","align":"left","baseline":"middle","fontSize":13},"encoding":{"x":{"datum":4.7,"axis":null},"y":{"datum":12},"text":{"value":"(+) dorsiflexion"}}},
   {"data":{"values":[{}]},"mark":{"type":"text","align":"center","baseline":"middle","fontSize":16,"fontWeight":"bold"},"encoding":{"x":{"datum":45.5,"axis":null},"y":{"datum":22.7},"text":{"value":"Day 1"}}},
   {"data":{"values":[{}]},"mark":{"type":"rule","color":"#000","strokeWidth":1.5},"encoding":{"x":{"datum":37,"axis":null},"x2":{"datum":54.1},"y":{"datum":20.5}}}
 ]},
 {"width":53,"height":10,"data":{"values":[{}]},"mark":{"type":"text"},"encoding":{"text":{"value":""}}},
 {"width":257,"height":141,"resolve":{"axis":{"x":"independent"}},"layer":[
   {"data":{"name":"d"},"transform":[{"filter":"datum.p==='A2'"}],"mark":{"type":"line","interpolate":"monotone","strokeWidth":2.5},
    "encoding":{"x":{"field":"x","type":"quantitative","scale":{"domain":[0,100],"nice":false,"zero":false},"axis":{"orient":"bottom","values":[0,10,20,30,40,50,60,70,80,90,100],"labels":false,"offset":-70.5,"title":null,"tickSize":6}},
     "y":{"field":"y","type":"quantitative","scale":{"domain":[-15,15],"nice":false,"zero":false},"axis":{"values":[-15,0,15],"title":null,"tickSize":6,"labelPadding":3}},
     "color":{"field":"s","type":"nominal","scale":{"domain":["Min. 30","Baseline","Min. 1"],"range":["#b4b4b4","#ff0000","#000000"]},"legend":null},
     "strokeDash":{"field":"s","type":"nominal","scale":{"domain":["Min. 30","Baseline","Min. 1"],"range":[[1,0],[11,6],[1,0]]},"legend":null}}},
   {"data":{"values":[{}]},"mark":{"type":"rule","color":"#777","strokeWidth":1.2},"encoding":{"x":{"datum":60,"axis":{"orient":"bottom","values":[0,50,100],"domain":false,"tickOpacity":0,"tickSize":6,"labelPadding":11,"offset":-70.5,"title":null,"labelFlush":false,"labelBound":false,"labelOverlap":false}}}},
   {"data":{"values":[{}]},"mark":{"type":"text","align":"left","baseline":"middle","fontSize":13},"encoding":{"x":{"datum":5.8,"axis":null},"y":{"datum":12},"text":{"value":"(+) dorsiflexion"}}},
   {"data":{"values":[{}]},"mark":{"type":"text","align":"center","baseline":"middle","fontSize":16,"fontWeight":"bold"},"encoding":{"x":{"datum":35.8,"axis":null},"y":{"datum":22.7},"text":{"value":"Day 2"}}},
   {"data":{"values":[{}]},"mark":{"type":"rule","color":"#000","strokeWidth":1.5},"encoding":{"x":{"datum":28,"axis":null},"x2":{"datum":43.6},"y":{"datum":20.5}}},
   {"data":{"values":[{}]},"mark":{"type":"text","align":"center","baseline":"middle","fontSize":16,"fontWeight":"bold"},"encoding":{"x":{"datum":82,"axis":null},"y":{"datum":22.7},"text":{"value":"Continuous"}}},
   {"data":{"values":[{}]},"mark":{"type":"text","align":"center","baseline":"middle","fontSize":16,"fontWeight":"bold"},"encoding":{"x":{"datum":83.5,"axis":null},"y":{"datum":17.8},"text":{"value":"Control"}}}
 ]},
 {"width":104,"height":10,"data":{"values":[{}]},"mark":{"type":"text"},"encoding":{"text":{"value":""}}},
 {"width":255,"height":141,"resolve":{"axis":{"x":"independent"}},"layer":[
   {"data":{"name":"d"},"transform":[{"filter":"datum.p==='A3'"}],"mark":{"type":"line","interpolate":"monotone","strokeWidth":2.5},
    "encoding":{"x":{"field":"x","type":"quantitative","scale":{"domain":[0,100],"nice":false,"zero":false},"axis":{"orient":"bottom","values":[0,10,20,30,40,50,60,70,80,90,100],"labels":false,"offset":-70.5,"title":null,"tickSize":6}},
     "y":{"field":"y","type":"quantitative","scale":{"domain":[-15,15],"nice":false,"zero":false},"axis":{"values":[-15,0,15],"title":"Ankle Angle (Degrees)","tickSize":6,"labelPadding":3,"titlePadding":12}},
     "color":{"field":"s","type":"nominal","scale":{"domain":["Min. 30","Baseline","Min. 1"],"range":["#b4b4b4","#ff0000","#000000"]},"legend":null},
     "strokeDash":{"field":"s","type":"nominal","scale":{"domain":["Min. 30","Baseline","Min. 1"],"range":[[1,0],[11,6],[1,0]]},"legend":null}}},
   {"data":{"values":[{}]},"mark":{"type":"rule","color":"#777","strokeWidth":1.2},"encoding":{"x":{"datum":60,"axis":{"orient":"bottom","values":[0,50,100],"domain":false,"tickOpacity":0,"tickSize":6,"labelPadding":11,"offset":-70.5,"title":null,"labelFlush":false,"labelBound":false,"labelOverlap":false}}}},
   {"data":{"values":[{}]},"mark":{"type":"text","align":"left","baseline":"middle","fontSize":13},"encoding":{"x":{"datum":6.3,"axis":null},"y":{"datum":12.3},"text":{"value":"(+) dorsiflexion"}}},
   {"data":{"values":[{}]},"mark":{"type":"text","align":"center","baseline":"middle","fontSize":16,"fontWeight":"bold"},"encoding":{"x":{"datum":43.5,"axis":null},"y":{"datum":22.7},"text":{"value":"Day 1"}}},
   {"data":{"values":[{}]},"mark":{"type":"rule","color":"#000","strokeWidth":1.5},"encoding":{"x":{"datum":34.9,"axis":null},"x2":{"datum":52.2},"y":{"datum":20.5}}}
 ]},
 {"width":56,"height":10,"data":{"values":[{}]},"mark":{"type":"text"},"encoding":{"text":{"value":""}}},
 {"width":255,"height":141,"resolve":{"axis":{"x":"independent"}},"layer":[
   {"data":{"name":"d"},"transform":[{"filter":"datum.p==='A4'"}],"mark":{"type":"line","interpolate":"monotone","strokeWidth":2.5},
    "encoding":{"x":{"field":"x","type":"quantitative","scale":{"domain":[0,100],"nice":false,"zero":false},"axis":{"orient":"bottom","values":[0,10,20,30,40,50,60,70,80,90,100],"labels":false,"offset":-70.5,"title":null,"tickSize":6}},
     "y":{"field":"y","type":"quantitative","scale":{"domain":[-15,15],"nice":false,"zero":false},"axis":{"values":[-15,0,15],"title":null,"tickSize":6,"labelPadding":3}},
     "color":{"field":"s","type":"nominal","scale":{"domain":["Min. 30","Baseline","Min. 1"],"range":["#b4b4b4","#ff0000","#000000"]},"legend":null},
     "strokeDash":{"field":"s","type":"nominal","scale":{"domain":["Min. 30","Baseline","Min. 1"],"range":[[1,0],[11,6],[1,0]]},"legend":null}}},
   {"data":{"values":[{}]},"mark":{"type":"rule","color":"#777","strokeWidth":1.2},"encoding":{"x":{"datum":59.5,"axis":{"orient":"bottom","values":[0,50,100],"domain":false,"tickOpacity":0,"tickSize":6,"labelPadding":11,"offset":-70.5,"title":null,"labelFlush":false,"labelBound":false,"labelOverlap":false}}}},
   {"data":{"values":[{}]},"mark":{"type":"text","align":"left","baseline":"middle","fontSize":13},"encoding":{"x":{"datum":5.9,"axis":null},"y":{"datum":12.5},"text":{"value":"(+) dorsiflexion"}}},
   {"data":{"values":[{}]},"mark":{"type":"text","align":"center","baseline":"middle","fontSize":16,"fontWeight":"bold"},"encoding":{"x":{"datum":32,"axis":null},"y":{"datum":22.7},"text":{"value":"Day 2"}}},
   {"data":{"values":[{}]},"mark":{"type":"rule","color":"#000","strokeWidth":1.5},"encoding":{"x":{"datum":24.7,"axis":null},"x2":{"datum":39.2},"y":{"datum":20.5}}},
   {"data":{"values":[{}]},"mark":{"type":"text","align":"center","baseline":"middle","fontSize":16,"fontWeight":"bold"},"encoding":{"x":{"datum":86.7,"axis":null},"y":{"datum":22.7},"text":{"value":"Swing"}}},
   {"data":{"values":[{}]},"mark":{"type":"text","align":"center","baseline":"middle","fontSize":16,"fontWeight":"bold"},"encoding":{"x":{"datum":86.3,"axis":null},"y":{"datum":17.6},"text":{"value":"Control"}}}
 ]},
 {"width":257,"height":147,"resolve":{"axis":{"x":"independent"}},"layer":[
   {"data":{"name":"d"},"transform":[{"filter":"datum.p==='K1'"}],"mark":{"type":"line","interpolate":"monotone","strokeWidth":2.5},
    "encoding":{"x":{"field":"x","type":"quantitative","scale":{"domain":[0,100],"nice":false,"zero":false},"axis":{"orient":"bottom","values":[0,10,20,30,40,50,60,70,80,90,100],"labels":false,"offset":-16.33,"title":null,"tickSize":6}},
     "y":{"field":"y","type":"quantitative","scale":{"domain":[-10,80],"nice":false,"zero":false},"axis":{"values":[-10,35,80],"title":"Knee Angle (Degrees)","tickSize":6,"labelPadding":3,"titlePadding":12}},
     "color":{"field":"s","type":"nominal","scale":{"domain":["Min. 30","Baseline","Min. 1"],"range":["#b4b4b4","#ff0000","#000000"]},"legend":null},
     "strokeDash":{"field":"s","type":"nominal","scale":{"domain":["Min. 30","Baseline","Min. 1"],"range":[[1,0],[11,6],[1,0]]},"legend":null}}},
   {"data":{"values":[{}]},"mark":{"type":"rule","color":"#777","strokeWidth":1.2},"encoding":{"x":{"datum":60,"axis":{"orient":"bottom","values":[0,50,100],"domain":false,"tickOpacity":0,"tickSize":6,"labelPadding":9,"offset":-16.33,"title":null,"labelFlush":false,"labelBound":false,"labelOverlap":false}}}},
   {"data":{"values":[{}]},"mark":{"type":"text","align":"left","baseline":"middle","fontSize":13},"encoding":{"x":{"datum":5.8,"axis":null},"y":{"datum":49},"text":{"value":"(+) flexion"}}}
 ]},
 {"width":53,"height":10,"data":{"values":[{}]},"mark":{"type":"text"},"encoding":{"text":{"value":""}}},
 {"width":257,"height":147,"resolve":{"axis":{"x":"independent"}},"layer":[
   {"data":{"name":"d"},"transform":[{"filter":"datum.p==='K2'"}],"mark":{"type":"line","interpolate":"monotone","strokeWidth":2.5},
    "encoding":{"x":{"field":"x","type":"quantitative","scale":{"domain":[0,100],"nice":false,"zero":false},"axis":{"orient":"bottom","values":[0,10,20,30,40,50,60,70,80,90,100],"labels":false,"offset":-16.33,"title":null,"tickSize":6}},
     "y":{"field":"y","type":"quantitative","scale":{"domain":[-10,80],"nice":false,"zero":false},"axis":{"values":[-10,35,80],"title":null,"tickSize":6,"labelPadding":3}},
     "color":{"field":"s","type":"nominal","scale":{"domain":["Min. 30","Baseline","Min. 1"],"range":["#b4b4b4","#ff0000","#000000"]},"legend":null},
     "strokeDash":{"field":"s","type":"nominal","scale":{"domain":["Min. 30","Baseline","Min. 1"],"range":[[1,0],[11,6],[1,0]]},"legend":null}}},
   {"data":{"values":[{}]},"mark":{"type":"rule","color":"#777","strokeWidth":1.2},"encoding":{"x":{"datum":60,"axis":{"orient":"bottom","values":[0,50,100],"domain":false,"tickOpacity":0,"tickSize":6,"labelPadding":9,"offset":-16.33,"title":null,"labelFlush":false,"labelBound":false,"labelOverlap":false}}}},
   {"data":{"values":[{}]},"mark":{"type":"text","align":"left","baseline":"middle","fontSize":13},"encoding":{"x":{"datum":7.8,"axis":null},"y":{"datum":49},"text":{"value":"(+) flexion"}}}
 ]},
 {"width":104,"height":10,"data":{"values":[{}]},"mark":{"type":"text"},"encoding":{"text":{"value":""}}},
 {"width":255,"height":147,"resolve":{"axis":{"x":"independent"}},"layer":[
   {"data":{"name":"d"},"transform":[{"filter":"datum.p==='K3'"}],"mark":{"type":"line","interpolate":"monotone","strokeWidth":2.5},
    "encoding":{"x":{"field":"x","type":"quantitative","scale":{"domain":[0,100],"nice":false,"zero":false},"axis":{"orient":"bottom","values":[0,10,20,30,40,50,60,70,80,90,100],"labels":false,"offset":-16.33,"title":null,"tickSize":6}},
     "y":{"field":"y","type":"quantitative","scale":{"domain":[-10,80],"nice":false,"zero":false},"axis":{"values":[-10,35,80],"title":"Knee Angle (Degrees)","tickSize":6,"labelPadding":3,"titlePadding":12}},
     "color":{"field":"s","type":"nominal","scale":{"domain":["Min. 30","Baseline","Min. 1"],"range":["#b4b4b4","#ff0000","#000000"]},"legend":null},
     "strokeDash":{"field":"s","type":"nominal","scale":{"domain":["Min. 30","Baseline","Min. 1"],"range":[[1,0],[11,6],[1,0]]},"legend":null}}},
   {"data":{"values":[{}]},"mark":{"type":"rule","color":"#777","strokeWidth":1.2},"encoding":{"x":{"datum":60,"axis":{"orient":"bottom","values":[0,50,100],"domain":false,"tickOpacity":0,"tickSize":6,"labelPadding":9,"offset":-16.33,"title":null,"labelFlush":false,"labelBound":false,"labelOverlap":false}}}},
   {"data":{"values":[{}]},"mark":{"type":"text","align":"left","baseline":"middle","fontSize":13},"encoding":{"x":{"datum":5.1,"axis":null},"y":{"datum":48.6},"text":{"value":"(+) flexion"}}}
 ]},
 {"width":56,"height":10,"data":{"values":[{}]},"mark":{"type":"text"},"encoding":{"text":{"value":""}}},
 {"width":255,"height":147,"resolve":{"axis":{"x":"independent"}},"layer":[
   {"data":{"name":"d"},"transform":[{"filter":"datum.p==='K4'"}],"mark":{"type":"line","interpolate":"monotone","strokeWidth":2.5},
    "encoding":{"x":{"field":"x","type":"quantitative","scale":{"domain":[0,100],"nice":false,"zero":false},"axis":{"orient":"bottom","values":[0,10,20,30,40,50,60,70,80,90,100],"labels":false,"offset":-16.33,"title":null,"tickSize":6}},
     "y":{"field":"y","type":"quantitative","scale":{"domain":[-10,80],"nice":false,"zero":false},"axis":{"values":[-10,35,80],"title":null,"tickSize":6,"labelPadding":3}},
     "color":{"field":"s","type":"nominal","scale":{"domain":["Min. 30","Baseline","Min. 1"],"range":["#b4b4b4","#ff0000","#000000"]},"legend":null},
     "strokeDash":{"field":"s","type":"nominal","scale":{"domain":["Min. 30","Baseline","Min. 1"],"range":[[1,0],[11,6],[1,0]]},"legend":null}}},
   {"data":{"values":[{}]},"mark":{"type":"rule","color":"#777","strokeWidth":1.2},"encoding":{"x":{"datum":59.5,"axis":{"orient":"bottom","values":[0,50,100],"domain":false,"tickOpacity":0,"tickSize":6,"labelPadding":9,"offset":-16.33,"title":null,"labelFlush":false,"labelBound":false,"labelOverlap":false}}}},
   {"data":{"values":[{}]},"mark":{"type":"text","align":"left","baseline":"middle","fontSize":13},"encoding":{"x":{"datum":5.5,"axis":null},"y":{"datum":49},"text":{"value":"(+) flexion"}}}
 ]},
 {"width":257,"height":142,"resolve":{"axis":{"x":"independent"}},"layer":[
   {"data":{"name":"d"},"transform":[{"filter":"datum.p==='H1'"}],"mark":{"type":"line","interpolate":"monotone","strokeWidth":2.5},
    "encoding":{"x":{"field":"x","type":"quantitative","scale":{"domain":[0,100],"nice":false,"zero":false},"axis":{"orient":"bottom","values":[0,10,20,30,40,50,60,70,80,90,100],"labels":false,"offset":-71,"title":null,"tickSize":6}},
     "y":{"field":"y","type":"quantitative","scale":{"domain":[-30,30],"nice":false,"zero":false},"axis":{"values":[-30,0,30],"title":"Hip Angle (Degrees)","tickSize":6,"labelPadding":3,"titlePadding":12}},
     "color":{"field":"s","type":"nominal","scale":{"domain":["Min. 30","Baseline","Min. 1"],"range":["#b4b4b4","#ff0000","#000000"]},"legend":null},
     "strokeDash":{"field":"s","type":"nominal","scale":{"domain":["Min. 30","Baseline","Min. 1"],"range":[[1,0],[11,6],[1,0]]},"legend":null}}},
   {"data":{"values":[{}]},"mark":{"type":"rule","color":"#777","strokeWidth":1.2},"encoding":{"x":{"datum":60,"axis":{"orient":"bottom","values":[0,50,100],"domain":false,"tickOpacity":0,"tickSize":6,"labelPadding":13,"offset":-71,"title":"% Gait Cycle","titlePadding":51,"labelFlush":false,"labelBound":false,"labelOverlap":false}}}},
   {"data":{"values":[{}]},"mark":{"type":"text","align":"left","baseline":"middle","fontSize":13},"encoding":{"x":{"datum":26,"axis":null},"y":{"datum":21},"text":{"value":"(+) flexion"}}},
   {"data":{"values":[{}]},"mark":{"type":"rect","fill":"#fff","stroke":"#999","strokeWidth":1},"encoding":{"x":{"datum":52.5,"axis":null},"x2":{"datum":166.9},"y":{"datum":-49.8},"y2":{"datum":-60.4}}},
   {"data":{"values":[{}]},"mark":{"type":"text","align":"left","baseline":"middle","fontSize":13,"fontWeight":"bold","color":"#ff0000"},"encoding":{"x":{"datum":56,"axis":null},"y":{"datum":-55.3},"text":{"value":"Baseline"}}},
   {"data":{"values":[{}]},"mark":{"type":"rule","color":"#ff0000","strokeWidth":2,"strokeDash":[5,3]},"encoding":{"x":{"datum":79.4,"axis":null},"x2":{"datum":90.3},"y":{"datum":-55.3}}},
   {"data":{"values":[{}]},"mark":{"type":"text","align":"left","baseline":"middle","fontSize":13,"fontWeight":"bold","color":"#000"},"encoding":{"x":{"datum":93.4,"axis":null},"y":{"datum":-55.3},"text":{"value":"Min. 1"}}},
   {"data":{"values":[{}]},"mark":{"type":"rule","color":"#000","strokeWidth":2},"encoding":{"x":{"datum":112.5,"axis":null},"x2":{"datum":125.3},"y":{"datum":-55.3}}},
   {"data":{"values":[{}]},"mark":{"type":"text","align":"left","baseline":"middle","fontSize":13,"fontWeight":"bold","color":"#a8a8a8"},"encoding":{"x":{"datum":128.4,"axis":null},"y":{"datum":-55.3},"text":{"value":"Min. 30"}}},
   {"data":{"values":[{}]},"mark":{"type":"rule","color":"#a8a8a8","strokeWidth":2},"encoding":{"x":{"datum":152.1,"axis":null},"x2":{"datum":164.2},"y":{"datum":-55.3}}}
 ]},
 {"width":53,"height":10,"data":{"values":[{}]},"mark":{"type":"text"},"encoding":{"text":{"value":""}}},
 {"width":257,"height":142,"resolve":{"axis":{"x":"independent"}},"layer":[
   {"data":{"name":"d"},"transform":[{"filter":"datum.p==='H2'"}],"mark":{"type":"line","interpolate":"monotone","strokeWidth":2.5},
    "encoding":{"x":{"field":"x","type":"quantitative","scale":{"domain":[0,100],"nice":false,"zero":false},"axis":{"orient":"bottom","values":[0,10,20,30,40,50,60,70,80,90,100],"labels":false,"offset":-71,"title":null,"tickSize":6}},
     "y":{"field":"y","type":"quantitative","scale":{"domain":[-30,30],"nice":false,"zero":false},"axis":{"values":[-30,0,30],"title":null,"tickSize":6,"labelPadding":3}},
     "color":{"field":"s","type":"nominal","scale":{"domain":["Min. 30","Baseline","Min. 1"],"range":["#b4b4b4","#ff0000","#000000"]},"legend":null},
     "strokeDash":{"field":"s","type":"nominal","scale":{"domain":["Min. 30","Baseline","Min. 1"],"range":[[1,0],[11,6],[1,0]]},"legend":null}}},
   {"data":{"values":[{}]},"mark":{"type":"rule","color":"#777","strokeWidth":1.2},"encoding":{"x":{"datum":60,"axis":{"orient":"bottom","values":[0,50,100],"domain":false,"tickOpacity":0,"tickSize":6,"labelPadding":13,"offset":-71,"title":"% Gait Cycle","titlePadding":51,"labelFlush":false,"labelBound":false,"labelOverlap":false}}}},
   {"data":{"values":[{}]},"mark":{"type":"text","align":"left","baseline":"middle","fontSize":13},"encoding":{"x":{"datum":26.8,"axis":null},"y":{"datum":20.3},"text":{"value":"(+) flexion"}}}
 ]},
 {"width":104,"height":10,"data":{"values":[{}]},"mark":{"type":"text"},"encoding":{"text":{"value":""}}},
 {"width":255,"height":142,"resolve":{"axis":{"x":"independent"}},"layer":[
   {"data":{"name":"d"},"transform":[{"filter":"datum.p==='H3'"}],"mark":{"type":"line","interpolate":"monotone","strokeWidth":2.5},
    "encoding":{"x":{"field":"x","type":"quantitative","scale":{"domain":[0,100],"nice":false,"zero":false},"axis":{"orient":"bottom","values":[0,10,20,30,40,50,60,70,80,90,100],"labels":false,"offset":-71,"title":null,"tickSize":6}},
     "y":{"field":"y","type":"quantitative","scale":{"domain":[-30,30],"nice":false,"zero":false},"axis":{"values":[-30,0,30],"title":"Hip Angle (Degrees)","tickSize":6,"labelPadding":3,"titlePadding":12}},
     "color":{"field":"s","type":"nominal","scale":{"domain":["Min. 30","Baseline","Min. 1"],"range":["#b4b4b4","#ff0000","#000000"]},"legend":null},
     "strokeDash":{"field":"s","type":"nominal","scale":{"domain":["Min. 30","Baseline","Min. 1"],"range":[[1,0],[11,6],[1,0]]},"legend":null}}},
   {"data":{"values":[{}]},"mark":{"type":"rule","color":"#777","strokeWidth":1.2},"encoding":{"x":{"datum":60,"axis":{"orient":"bottom","values":[0,50,100],"domain":false,"tickOpacity":0,"tickSize":6,"labelPadding":13,"offset":-71,"title":"% Gait Cycle","titlePadding":51,"labelFlush":false,"labelBound":false,"labelOverlap":false}}}},
   {"data":{"values":[{}]},"mark":{"type":"text","align":"left","baseline":"middle","fontSize":13},"encoding":{"x":{"datum":26.5,"axis":null},"y":{"datum":22.5},"text":{"value":"(+) flexion"}}},
   {"data":{"values":[{}]},"mark":{"type":"rect","fill":"#fff","stroke":"#999","strokeWidth":1},"encoding":{"x":{"datum":51.4,"axis":null},"x2":{"datum":167},"y":{"datum":-49.8},"y2":{"datum":-60.4}}},
   {"data":{"values":[{}]},"mark":{"type":"text","align":"left","baseline":"middle","fontSize":13,"fontWeight":"bold","color":"#ff0000"},"encoding":{"x":{"datum":55.3,"axis":null},"y":{"datum":-55.3},"text":{"value":"Baseline"}}},
   {"data":{"values":[{}]},"mark":{"type":"rule","color":"#ff0000","strokeWidth":2,"strokeDash":[5,3]},"encoding":{"x":{"datum":78.8,"axis":null},"x2":{"datum":89.8},"y":{"datum":-55.3}}},
   {"data":{"values":[{}]},"mark":{"type":"text","align":"left","baseline":"middle","fontSize":13,"fontWeight":"bold","color":"#000"},"encoding":{"x":{"datum":92.5,"axis":null},"y":{"datum":-55.3},"text":{"value":"Min. 1"}}},
   {"data":{"values":[{}]},"mark":{"type":"rule","color":"#000","strokeWidth":2},"encoding":{"x":{"datum":112.2,"axis":null},"x2":{"datum":125.1},"y":{"datum":-55.3}}},
   {"data":{"values":[{}]},"mark":{"type":"text","align":"left","baseline":"middle","fontSize":13,"fontWeight":"bold","color":"#a8a8a8"},"encoding":{"x":{"datum":127.8,"axis":null},"y":{"datum":-55.3},"text":{"value":"Min. 30"}}},
   {"data":{"values":[{}]},"mark":{"type":"rule","color":"#a8a8a8","strokeWidth":2},"encoding":{"x":{"datum":152.2,"axis":null},"x2":{"datum":164.3},"y":{"datum":-55.3}}}
 ]},
 {"width":56,"height":10,"data":{"values":[{}]},"mark":{"type":"text"},"encoding":{"text":{"value":""}}},
 {"width":255,"height":142,"resolve":{"axis":{"x":"independent"}},"layer":[
   {"data":{"name":"d"},"transform":[{"filter":"datum.p==='H4'"}],"mark":{"type":"line","interpolate":"monotone","strokeWidth":2.5},
    "encoding":{"x":{"field":"x","type":"quantitative","scale":{"domain":[0,100],"nice":false,"zero":false},"axis":{"orient":"bottom","values":[0,10,20,30,40,50,60,70,80,90,100],"labels":false,"offset":-71,"title":null,"tickSize":6}},
     "y":{"field":"y","type":"quantitative","scale":{"domain":[-30,30],"nice":false,"zero":false},"axis":{"values":[-30,0,30],"title":null,"tickSize":6,"labelPadding":3}},
     "color":{"field":"s","type":"nominal","scale":{"domain":["Min. 30","Baseline","Min. 1"],"range":["#b4b4b4","#ff0000","#000000"]},"legend":null},
     "strokeDash":{"field":"s","type":"nominal","scale":{"domain":["Min. 30","Baseline","Min. 1"],"range":[[1,0],[11,6],[1,0]]},"legend":null}}},
   {"data":{"values":[{}]},"mark":{"type":"rule","color":"#777","strokeWidth":1.2},"encoding":{"x":{"datum":59.5,"axis":{"orient":"bottom","values":[0,50,100],"domain":false,"tickOpacity":0,"tickSize":6,"labelPadding":13,"offset":-71,"title":"% Gait Cycle","titlePadding":51,"labelFlush":false,"labelBound":false,"labelOverlap":false}}}},
   {"data":{"values":[{}]},"mark":{"type":"text","align":"left","baseline":"middle","fontSize":13},"encoding":{"x":{"datum":25.7,"axis":null},"y":{"datum":22},"text":{"value":"(+) flexion"}}}
 ]}
]
}
